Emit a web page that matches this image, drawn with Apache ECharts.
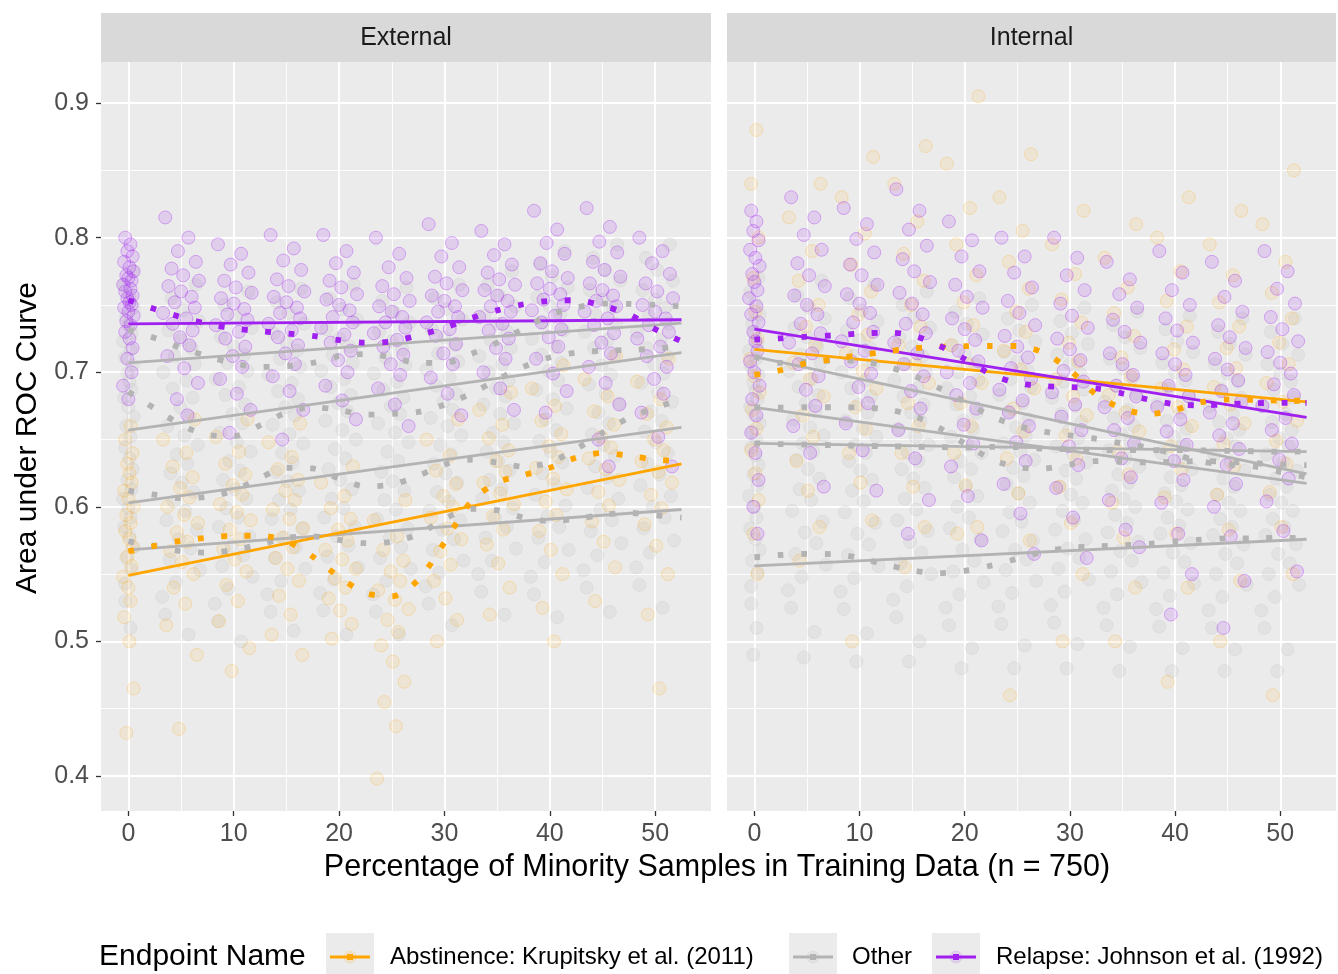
<!DOCTYPE html>
<html><head><meta charset="utf-8">
<script src="https://cdn.jsdelivr.net/npm/echarts@6/dist/echarts.min.js"></script>
<style>html,body{margin:0;padding:0;background:#fff}#chart{width:1338px;height:974px}</style>
</head><body><div id="chart"></div>
<script>
// ---------------- DATA ----------------
const panels = ['External', 'Internal'];
const groupNames = ['Abstinence: Krupitsky et al. (2011)', 'Other', 'Relapse: Johnson et al. (1992)'];
const legendTitle = 'Endpoint Name';
const xTitle = 'Percentage of Minority Samples in Training Data (n = 750)';
const yTitle = 'Area under ROC Curve';
const xLevels = [0, 5, 10, 15, 20, 25, 30, 35, 40, 45, 50];
const xTicks = [0, 10, 20, 30, 40, 50];
const xMinor = [5, 15, 25, 35, 45];
const yTicks = [0.4, 0.5, 0.6, 0.7, 0.8, 0.9];
const yMinor = [0.45, 0.55, 0.65, 0.75, 0.85];
// hand-set jitter pattern (x offsets of points around each level)
const jitterWide = [-1.5,0.7,-0.3,1.4,-0.9,0.2,1.7,-1.2,0.0,1.0,-0.6,1.3,-1.7,0.5,-0.8,1.1,-0.1,0.8,-1.3,0.3,1.6,-0.4,0.6,-1.0,0.1,1.2,-0.7,0.4,-1.4,1.5,-0.2,0.9,-1.1,1.8,-0.5,-1.8];
const jitterNarrow = [-0.3,0.2,-0.1,0.4,-0.4,0.1,0.5,-0.2,0.0,0.3,-0.5,0.2,-0.3,0.4,-0.1,0.1,0.3,-0.4,0.0,0.5,-0.2,0.2,-0.3,0.1,0.4,-0.1,0.3,-0.5,0.0,0.2,-0.4,0.1,0.5,-0.2,0.3,-0.3];

// AUC values (x1000) of individual runs, one list per x level
const extOrangePts = [
 [660,650,640,632,625,618,612,606,600,594,588,582,576,570,563,556,548,540,530,518,500,465,432],
 [665,650,640,630,622,614,607,600,594,588,581,574,567,559,550,540,528,512,490,435],
 [665,652,641,632,624,616,609,602,596,590,583,576,569,561,552,542,530,515,495,478],
 [662,648,637,628,620,612,605,598,591,584,577,570,562,554,545,534,520,505,490],
 [630,618,608,599,591,583,575,568,561,554,547,540,532,523,513,502],
 [605,590,578,568,560,552,545,538,531,524,516,507,497,485,470,455,437,398],
 [665,650,638,627,617,608,600,592,584,576,567,557,545,532,516,500],
 [685,672,661,651,642,634,626,618,610,602,593,583,572,558,540,520],
 [705,688,675,664,654,645,637,629,621,613,604,594,582,568,550,525,500],
 [712,695,682,671,661,652,644,636,628,620,611,601,589,574,555,530],
 [710,693,680,669,659,650,642,634,626,618,609,599,587,571,550,520,465]
];
const extOtherPts = [
 [775,765,756,748,741,735,729,723,717,711,705,699,693,687,681,674,667,660,652,644,636,628,620,613,606,599,592,585,578,570,562,553,543,530,510],
 [765,755,746,738,731,724,718,712,706,700,694,688,681,674,667,660,653,646,639,632,625,618,611,604,597,590,583,576,569,561,553,544,533,520,505],
 [760,750,741,733,726,719,713,707,701,695,689,683,676,669,662,655,648,641,634,627,620,613,606,599,592,585,578,571,564,556,548,539,528,515,500],
 [762,752,744,736,729,722,716,710,704,698,692,686,680,674,668,661,654,647,640,633,626,619,612,605,598,591,584,577,570,562,554,545,535,522,508],
 [765,755,747,739,732,725,719,713,707,701,695,689,683,677,671,664,657,650,643,636,628,620,613,606,599,592,585,578,571,563,555,546,536,523,505],
 [763,753,745,737,730,723,717,711,705,699,693,687,681,675,669,662,655,648,641,634,626,619,612,605,598,591,584,577,570,562,554,545,535,522,505],
 [765,755,747,739,732,726,720,714,708,702,696,690,684,678,672,666,660,653,646,639,632,625,618,611,604,597,590,583,576,568,560,551,541,528,512],
 [775,765,757,749,742,736,730,724,718,712,706,700,694,688,682,676,669,662,655,648,641,634,627,620,613,606,599,592,585,577,569,560,550,537,520],
 [790,780,771,763,756,749,743,737,731,725,719,713,707,701,694,687,680,673,665,657,649,641,633,625,617,609,601,593,585,577,568,559,548,535,518],
 [795,785,776,768,761,754,748,742,736,730,724,718,712,705,698,691,684,677,670,662,654,646,638,630,622,614,606,598,590,582,573,564,553,540,522],
 [795,785,776,768,761,754,748,742,736,730,724,718,712,706,699,692,685,678,671,664,656,648,640,632,624,616,608,600,592,584,575,566,555,542,525]
];
const extRelapsePts = [
 [800,795,790,786,782,778,775,772,770,768,765,762,760,757,755,752,750,748,745,742,738,735,730,725,718,710,700,690,680],
 [815,800,790,782,777,772,768,764,760,756,752,748,744,740,736,731,726,720,712,703,692,680,668],
 [795,788,780,774,768,763,759,755,751,747,743,739,735,730,725,719,712,704,695,684,672,655],
 [802,792,783,776,769,764,760,756,752,748,744,740,736,731,726,720,714,706,697,686,672,650],
 [802,790,781,774,768,763,758,754,750,746,741,737,733,728,722,716,709,700,690,679,665],
 [800,788,778,770,764,758,753,749,745,741,737,733,729,724,719,713,706,698,688,676,660],
 [810,796,786,778,771,766,761,757,753,749,745,741,737,732,727,721,714,706,696,684,668],
 [805,795,787,780,774,769,765,761,757,753,749,745,741,736,731,725,718,710,700,688,672],
 [820,806,796,788,781,775,770,766,762,758,754,750,746,742,737,732,726,719,710,699,686,670],
 [822,808,797,789,782,776,771,766,761,757,753,749,745,740,735,729,722,714,704,692,676,650,630],
 [800,790,781,773,766,760,755,750,745,740,735,730,725,719,712,704,695,684,670,652,630]
];
const intOrangePts = [
 [880,840,800,770,745,725,710,697,685,672,658,642,625,605,580,550],
 [840,815,790,768,750,734,720,707,695,682,668,652,634,612,585,560],
 [860,830,803,780,760,743,728,714,701,688,674,658,640,618,590,500],
 [868,840,812,788,768,750,734,720,706,692,677,660,640,615,585,555],
 [905,855,822,795,772,752,735,720,706,692,677,660,640,616,585,580],
 [862,830,805,782,762,745,730,716,702,688,673,656,636,610,575,460],
 [820,795,773,754,737,722,708,695,682,668,653,636,615,588,550,500],
 [810,785,763,744,727,711,697,683,670,656,641,624,603,577,540,500],
 [830,800,775,753,734,717,702,688,674,660,645,628,607,580,540,470],
 [820,795,772,752,734,718,703,689,676,662,647,630,609,583,545,500],
 [850,810,782,759,740,722,706,692,678,664,649,632,611,585,550,460]
];
const intOtherPts = [
 [770,760,751,743,736,729,722,716,710,704,698,692,686,680,674,668,662,656,650,644,638,631,624,616,608,600,592,584,576,568,560,551,541,528,510,490],
 [768,757,748,740,733,726,719,713,707,701,695,689,683,677,671,665,659,653,647,641,635,628,621,613,605,597,589,581,573,565,557,548,538,525,507,488],
 [765,755,746,738,731,724,718,712,706,700,694,688,682,676,670,664,658,652,646,640,634,627,620,612,604,596,588,580,572,564,556,547,537,524,506,485],
 [760,750,741,733,726,719,712,706,700,694,688,682,676,670,664,658,652,646,640,634,628,621,614,606,598,590,582,574,566,558,550,541,531,518,500,485],
 [755,745,736,728,720,713,706,700,694,688,682,676,670,664,658,652,646,640,634,628,622,615,608,600,592,584,576,568,560,552,544,535,525,512,495,480],
 [750,740,731,723,715,708,701,695,689,683,677,671,665,659,653,647,641,635,629,623,617,610,603,596,589,582,575,568,561,553,545,536,526,513,497,480],
 [748,738,729,721,713,706,699,693,687,681,675,669,663,657,651,645,639,633,627,621,615,609,603,597,590,583,576,569,562,554,546,537,527,514,498,480],
 [745,735,726,718,710,703,696,690,684,678,672,666,660,654,648,642,636,630,624,618,612,606,600,594,588,581,574,567,560,552,544,535,525,512,496,478],
 [742,732,723,715,707,700,694,688,682,676,670,664,658,652,646,640,634,628,622,616,610,604,598,592,586,580,573,566,559,551,543,534,524,511,495,478],
 [740,730,721,713,706,699,693,687,681,675,669,663,657,651,645,639,633,627,621,615,609,603,597,591,585,579,572,565,558,550,542,533,523,510,494,478],
 [740,730,721,713,706,699,693,687,681,675,669,663,657,651,645,639,633,627,621,615,609,603,597,591,585,579,572,565,558,550,542,533,523,510,494,478]
];
const intRelapsePts = [
 [820,812,805,798,791,785,779,773,767,761,755,749,743,737,730,723,716,708,700,690,680,668,655,640,620,600,580],
 [830,815,802,791,781,772,764,757,750,743,736,729,722,714,706,697,687,675,660,640,615],
 [822,810,799,789,780,772,765,758,751,744,737,730,723,716,708,699,689,677,662,642,612],
 [836,820,806,794,784,775,767,759,751,743,736,729,722,714,706,697,686,673,657,636,605,580],
 [812,798,786,775,765,756,748,740,732,724,716,708,700,692,683,673,661,647,630,608,575],
 [800,786,774,763,753,744,735,727,719,711,703,695,687,679,670,660,648,634,617,595,565],
 [800,785,772,761,751,742,733,725,717,709,701,693,685,676,667,657,645,631,614,592,562],
 [782,769,758,748,739,730,722,714,706,698,690,682,674,666,657,647,636,622,605,583,570],
 [790,774,761,750,740,731,722,714,706,698,690,682,674,665,656,646,634,620,603,580,550,520],
 [782,768,756,745,735,726,718,710,702,694,686,678,670,662,653,643,631,617,600,578,545,510],
 [790,775,762,751,741,732,723,715,707,699,691,683,675,666,657,647,635,621,604,582,552]
];

// linear fits: value at x = 0 and x = 52.5
const fitX = [0, 52.5];
const extOrangeFit = [0.549, 0.632];
const extRelapseFit = [0.736, 0.739];
const extOtherFits = [[0.707, 0.7365], [0.657, 0.7145], [0.603, 0.659], [0.568, 0.598]];
const intOrangeFit = [0.717, 0.678];
const intRelapseFit = [0.732, 0.6665];
const intOtherFits = [[0.7116, 0.6244], [0.6739, 0.6175], [0.6472, 0.641], [0.5562, 0.5759]];

// loess smooths, sampled at loessX
const loessX = [0,2.5,5,7.5,10,12.5,15,17.5,20,22.5,25,27.5,30,32.5,35,37.5,40,42.5,45,47.5,50,52.5];
const extOrangeLoess = [0.567,0.571,0.5748,0.577,0.5785,0.5785,0.5745,0.563,0.548,0.536,0.5335,0.5456,0.5735,0.6035,0.618,0.6235,0.629,0.6365,0.640,0.638,0.635,0.634];
const extRelapseLoess = [0.7535,0.747,0.741,0.736,0.7325,0.7305,0.7288,0.727,0.7238,0.722,0.7228,0.7275,0.733,0.740,0.746,0.7505,0.753,0.7535,0.7495,0.743,0.732,0.723];
const extOtherLoess = [
 [0.7314,0.7255,0.718,0.712,0.7065,0.704,0.7045,0.707,0.712,0.7135,0.711,0.707,0.707,0.7135,0.722,0.7323,0.7425,0.748,0.751,0.7508,0.750,0.749],
 [0.6856,0.673,0.661,0.6535,0.6525,0.6605,0.670,0.674,0.672,0.6685,0.669,0.6705,0.676,0.684,0.6945,0.704,0.711,0.7145,0.716,0.7165,0.7175,0.7195],
 [0.612,0.609,0.6065,0.6075,0.612,0.6215,0.629,0.6285,0.621,0.6153,0.6165,0.623,0.6315,0.635,0.633,0.6298,0.633,0.643,0.655,0.666,0.6735,0.680],
 [0.5743,0.5709,0.567,0.566,0.568,0.572,0.577,0.578,0.5755,0.573,0.574,0.5795,0.591,0.5985,0.5975,0.592,0.5895,0.591,0.594,0.5955,0.5937,0.592]
];
const intOrangeLoess = [0.698,0.7015,0.7068,0.7096,0.7127,0.7152,0.7178,0.7188,0.7194,0.7195,0.7195,0.7145,0.7015,0.6835,0.673,0.669,0.672,0.6778,0.6798,0.6794,0.6789,0.6788];
const intRelapseLoess = [0.7242,0.7252,0.7264,0.7274,0.7287,0.7294,0.7275,0.720,0.7098,0.6985,0.692,0.6897,0.689,0.688,0.6842,0.6797,0.6763,0.6754,0.6762,0.677,0.6772,0.6772];
const intOtherLoess = [
 [0.7116,0.707,0.7078,0.7087,0.7082,0.7045,0.698,0.6885,0.678,0.6675,0.660,0.656,0.653,0.6505,0.647,0.644,0.639,0.6335,0.6315,0.630,0.626,0.622],
 [0.674,0.6737,0.674,0.674,0.6738,0.6725,0.668,0.659,0.647,0.6355,0.6295,0.6285,0.6315,0.634,0.6335,0.633,0.6335,0.634,0.6335,0.6325,0.6315,0.631],
 [0.6472,0.6466,0.6462,0.6458,0.6454,0.645,0.6447,0.6444,0.6441,0.6445,0.6444,0.6432,0.6428,0.6423,0.6422,0.6422,0.6421,0.642,0.6416,0.6413,0.641,0.641],
 [0.5625,0.5642,0.565,0.5648,0.562,0.557,0.5528,0.5508,0.5525,0.5563,0.5614,0.5668,0.5695,0.5707,0.5714,0.5724,0.5743,0.5757,0.5765,0.5766,0.577,0.5766]
];

// ---------------- STYLE ----------------
const COL = { orange: '#FFA500', grey: '#B3B3B3', purple: '#A020F0' };
const FONT = '"Liberation Sans", Arial, Helvetica, sans-serif';
const X_MIN = -2.6, X_MAX = 55.3, Y_MIN = 0.374, Y_MAX = 0.9305;
const gridsPx = [{ left: 101, top: 62, width: 610, height: 749 }, { left: 727, top: 62, width: 609, height: 749 }];

const pointStyles = {
  orange: { color: 'rgba(255,165,0,0.12)', borderColor: 'rgba(255,165,0,0.28)', borderWidth: 1 },
  grey: { color: 'rgba(200,200,200,0.32)', borderColor: 'rgba(190,190,190,0.26)', borderWidth: 1 },
  purple: { color: 'rgba(160,32,240,0.19)', borderColor: 'rgba(160,32,240,0.40)', borderWidth: 1 }
};

function jitterPoints(cols, offset) {
  const out = [];
  cols.forEach((vals, i) => {
    const xl = xLevels[i];
    const jit = xl === 0 ? jitterNarrow : jitterWide;
    vals.forEach((v, j) => {
      out.push([xl + jit[(j + offset) % jit.length], v / 1000]);
    });
  });
  return out;
}

const series = [];
function addPanel(p, orangePts, otherPts, relapsePts, oFit, rFit, gFits, oLo, rLo, gLo) {
  const ax = { xAxisIndex: p, yAxisIndex: p };
  series.push({ ...ax, type: 'scatter', name: groupNames[1], symbolSize: 13, z: 2, silent: true,
    itemStyle: pointStyles.grey, data: jitterPoints(otherPts, 3) });
  series.push({ ...ax, type: 'scatter', name: groupNames[0], symbolSize: 13, z: 2, silent: true,
    itemStyle: pointStyles.orange, data: jitterPoints(orangePts, 11) });
  series.push({ ...ax, type: 'scatter', name: groupNames[2], symbolSize: 13, z: 2, silent: true,
    itemStyle: pointStyles.purple, data: jitterPoints(relapsePts, 0) });
  const solid = (vals, color, name) => series.push({ ...ax, type: 'line', name, z: 4, showSymbol: false, silent: true,
    data: fitX.map((x, i) => [x, vals[i]]), lineStyle: { color, width: 2.8 } });
  const dotted = (vals, color, name) => series.push({ ...ax, type: 'line', name, z: 5, showSymbol: false, silent: true,
    smooth: 0.3, data: loessX.map((x, i) => [x, vals[i]]),
    lineStyle: { color, width: 5.8, type: [5.8, 17.7], cap: 'butt' } });
  gFits.forEach(f => solid(f, COL.grey, groupNames[1]));
  solid(oFit, COL.orange, groupNames[0]);
  solid(rFit, COL.purple, groupNames[2]);
  gLo.forEach(l => dotted(l, COL.grey, groupNames[1]));
  dotted(oLo, COL.orange, groupNames[0]);
  dotted(rLo, COL.purple, groupNames[2]);
}
addPanel(0, extOrangePts, extOtherPts, extRelapsePts, extOrangeFit, extRelapseFit, extOtherFits, extOrangeLoess, extRelapseLoess, extOtherLoess);
addPanel(1, intOrangePts, intOtherPts, intRelapsePts, intOrangeFit, intRelapseFit, intOtherFits, intOrangeLoess, intRelapseLoess, intOtherLoess);

const xAxes = [], yAxes = [];
[0, 1].forEach(p => {
  xAxes.push({ type: 'value', gridIndex: p, min: X_MIN, max: X_MAX, position: 'bottom',
    axisLine: { show: false, onZero: false },
    axisTick: { show: true, customValues: xTicks, length: 5, lineStyle: { color: '#333', width: 1.3 } },
    axisLabel: { show: true, customValues: xTicks, fontSize: 25, color: '#4D4D4D', fontFamily: FONT, margin: 11 },
    splitLine: { show: true, lineStyle: { color: '#FFFFFF', width: 1.9 } } });
  yAxes.push({ type: 'value', gridIndex: p, min: Y_MIN, max: Y_MAX, position: 'left',
    axisLine: { show: false, onZero: false },
    axisTick: { show: p === 0, customValues: yTicks, length: 5, lineStyle: { color: '#333', width: 1.3 } },
    axisLabel: { show: p === 0, customValues: yTicks, fontSize: 25, color: '#4D4D4D', fontFamily: FONT, margin: 12,
      formatter: v => v.toFixed(1) },
    splitLine: { show: true, lineStyle: { color: '#FFFFFF', width: 1.9 } } });
});
[0, 1].forEach(p => {
  xAxes.push({ type: 'value', gridIndex: p, min: X_MIN, max: X_MAX, position: 'bottom',
    axisLine: { show: false, onZero: false }, axisTick: { show: false, customValues: xMinor }, axisLabel: { show: false },
    splitLine: { show: true, lineStyle: { color: '#FFFFFF', width: 0.9 } } });
  yAxes.push({ type: 'value', gridIndex: p, min: Y_MIN, max: Y_MAX, position: 'left',
    axisLine: { show: false, onZero: false }, axisTick: { show: false, customValues: yMinor }, axisLabel: { show: false },
    splitLine: { show: true, lineStyle: { color: '#FFFFFF', width: 0.9 } } });
});

// ---------------- GRAPHICS: strips, titles, legend ----------------
const graphics = [];
panels.forEach((name, p) => {
  const g = gridsPx[p];
  graphics.push({ type: 'rect', left: g.left, top: 13, shape: { width: g.width, height: 49 }, style: { fill: '#D9D9D9' }, silent: true });
  graphics.push({ type: 'text', x: g.left + g.width / 2, y: 38, silent: true,
    style: { text: name, font: '25px ' + FONT, fill: '#1A1A1A', textAlign: 'center', textVerticalAlign: 'middle' } });
});
graphics.push({ type: 'text', x: 717, y: 868, silent: true,
  style: { text: xTitle, font: '30.5px ' + FONT, fill: '#000', textAlign: 'center', textVerticalAlign: 'middle' } });
graphics.push({ type: 'text', x: 28, y: 438, rotation: Math.PI / 2, silent: true,
  style: { text: yTitle, font: '30px ' + FONT, fill: '#000', textAlign: 'center', textVerticalAlign: 'middle' } });
graphics.push({ type: 'text', x: 99, y: 957, silent: true,
  style: { text: legendTitle, font: '30px ' + FONT, fill: '#000', textAlign: 'left', textVerticalAlign: 'middle' } });
const legendKeys = [
  { x: 326, text: 390, color: COL.orange, pt: 'rgba(255,165,0,0.15)', label: groupNames[0] },
  { x: 789, text: 852, color: COL.grey, pt: 'rgba(190,190,190,0.2)', label: groupNames[1] },
  { x: 932, text: 996, color: COL.purple, pt: 'rgba(160,32,240,0.12)', label: groupNames[2] }
];
legendKeys.forEach(k => {
  const cy = 957;
  graphics.push({ type: 'rect', left: k.x, top: cy - 24, shape: { width: 48, height: 48 }, style: { fill: '#EBEBEB' }, silent: true });
  graphics.push({ type: 'circle', shape: { cx: k.x + 24, cy: cy, r: 6 }, style: { fill: k.pt, stroke: k.pt }, silent: true });
  graphics.push({ type: 'line', shape: { x1: k.x + 4, y1: cy, x2: k.x + 44, y2: cy }, style: { stroke: k.color, lineWidth: 2.8 }, silent: true });
  graphics.push({ type: 'rect', shape: { x: k.x + 21, y: cy - 3, width: 6, height: 6 }, style: { fill: k.color }, silent: true });
  graphics.push({ type: 'text', x: k.text, y: cy, silent: true,
    style: { text: k.label, font: '24px ' + FONT, fill: '#000', textAlign: 'left', textVerticalAlign: 'middle' } });
});

const chart = echarts.init(document.getElementById('chart'), null, { renderer: 'canvas' });
chart.setOption({
  animation: false,
  backgroundColor: '#FFFFFF',
  textStyle: { fontFamily: FONT },
  grid: gridsPx.map(g => ({ ...g, show: true, backgroundColor: '#EBEBEB', borderWidth: 0, containLabel: false })),
  xAxis: xAxes,
  yAxis: yAxes,
  series: series,
  graphic: graphics
});
</script></body></html>
